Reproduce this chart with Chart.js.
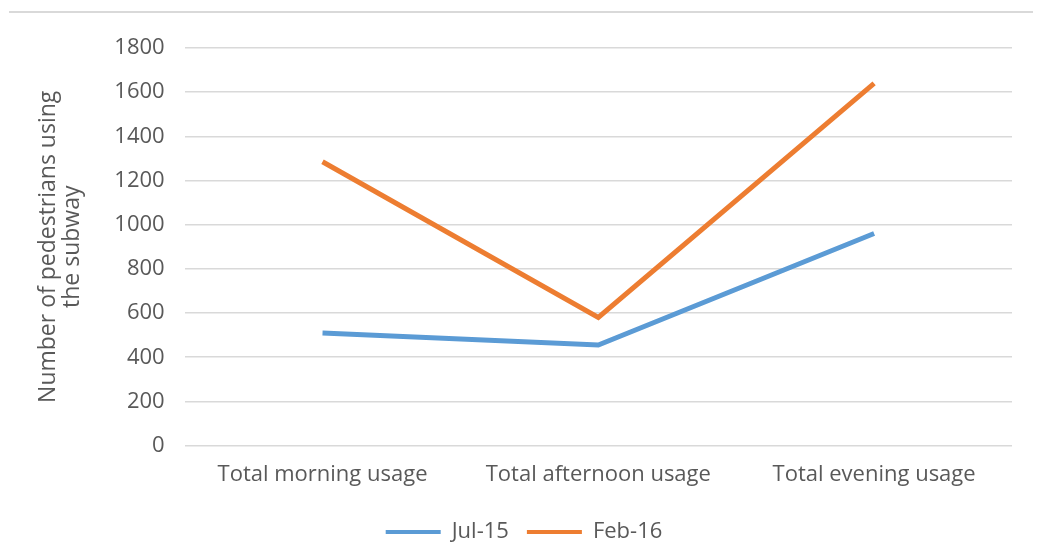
<!DOCTYPE html>
<html>
<head>
<meta charset="utf-8">
<script src="https://cdn.jsdelivr.net/npm/chart.js@4"></script>
<style>
  html, body { margin: 0; padding: 0; background: #fff; }
  #wrap { width: 1042px; height: 553px; position: relative; }
</style>
</head>
<body>
<div id="wrap"><canvas id="myChart"></canvas></div>
<script>
var categories = ['Total morning usage', 'Total afternoon usage', 'Total evening usage'];
var jul15 = [510, 455, 960];
var feb16 = [1285, 580, 1640];
var yTicks = [0, 200, 400, 600, 800, 1000, 1200, 1400, 1600, 1800];

var textColor = '#595959';
var gridColor = '#d9d9d9';
var fontFamily = 'Open Sans';

// thin frame line across the top of the picture
var topLine = {
    id: 'topLine',
    afterDraw: function(chart) {
        var c = chart.ctx;
        c.save();
        c.strokeStyle = gridColor;
        c.lineWidth = 2;
        c.beginPath();
        c.moveTo(9, 12);
        c.lineTo(1033, 12);
        c.stroke();
        c.restore();
    }
};

var ctx = document.getElementById('myChart').getContext('2d');
var myChart = new Chart(ctx, {
    type: 'line',
    data: {
        labels: categories,
        datasets: [{
            label: 'Jul-15',
            data: jul15,
            borderColor: '#5b9bd5',
            backgroundColor: '#5b9bd5',
            borderWidth: 5,
            pointRadius: 0,
            tension: 0
        }, {
            label: 'Feb-16',
            data: feb16,
            borderColor: '#ed7d31',
            backgroundColor: '#ed7d31',
            borderWidth: 5,
            pointRadius: 0,
            tension: 0
        }]
    },
    options: {
        responsive: true,
        maintainAspectRatio: false,
        animation: false,
        layout: { padding: { top: 48, right: 30, bottom: 0, left: 36 } },
        scales: {
            x: {
                offset: true,
                grid: { display: false },
                border: { display: false },
                ticks: {
                    color: textColor,
                    font: { family: fontFamily, size: 22 },
                    padding: 8
                },
                afterFit: function(axis) { axis.height += 7; }
            },
            y: {
                min: 0,
                max: 1800,
                afterBuildTicks: function(axis) {
                    axis.ticks = yTicks.map(function(v) { return { value: v }; });
                },
                grid: { color: gridColor, lineWidth: 1.5, drawTicks: false },
                border: { display: false },
                ticks: {
                    color: textColor,
                    font: { family: fontFamily, size: 22 },
                    padding: 20,
                    callback: function(value) { return String(value); }
                },
                title: {
                    display: true,
                    text: ['Number of pedestrians using', 'the subway'],
                    color: textColor,
                    font: { family: fontFamily, size: 23, lineHeight: 1.05 },
                    padding: { top: 0, bottom: 10 }
                }
            }
        },
        plugins: {
            legend: {
                position: 'bottom',
                labels: {
                    color: textColor,
                    font: { family: fontFamily, size: 22 },
                    boxWidth: 55,
                    boxHeight: 4,
                    padding: 18,
                    generateLabels: function(chart) {
                        var items = Chart.defaults.plugins.legend.labels.generateLabels(chart);
                        items.forEach(function(it) { it.lineWidth = 0; });
                        return items;
                    }
                }
            },
            tooltip: { enabled: false }
        }
    },
    plugins: [topLine]
});
</script>
</body>
</html>
